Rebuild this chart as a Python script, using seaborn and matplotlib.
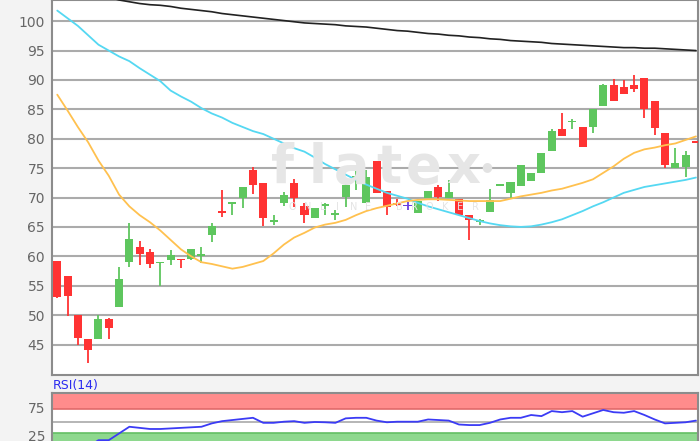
import numpy as np
import pandas as pd

import matplotlib
matplotlib.use('Agg')

import matplotlib.pyplot as plt

import seaborn as sns

# daily candles
open_ = [59.2, 56.6, 50.1, 46.0, 45.9, 49.3, 51.4, 59.1, 61.6, 60.8,
         58.8, 59.3, 59.6, 59.6, 60.1, 63.6, 67.7, 68.9, 70.0, 74.6,
         72.5, 65.8, 69.0, 72.5, 68.5, 66.5, 68.6, 67.0, 70.1, 72.8,
         69.1, 76.3, 71.1, 69.1, 68.5, 67.3, 69.9, 71.8, 70.0, 69.8,
         67.1, 65.9, 67.5, 72.0, 70.7, 72.0, 72.8, 74.2, 77.9, 81.6,
         82.8, 82.0, 82.0, 85.6, 89.2, 88.8, 89.2, 90.3, 86.4, 81.0,
         75.1, 75.2, 79.7]
high = [59.2, 56.6, 50.1, 46.0, 50.1, 49.5, 58.2, 65.7, 62.6, 61.2,
        59.1, 61.0, 59.6, 61.2, 61.6, 65.7, 71.2, 69.2, 71.8, 75.2,
        72.5, 67.0, 70.9, 73.2, 69.1, 68.3, 69.1, 67.8, 72.5, 74.6,
        74.6, 76.3, 71.1, 69.8, 69.2, 69.4, 71.1, 72.1, 72.9, 69.8,
        67.1, 66.4, 71.5, 72.3, 72.6, 75.6, 74.1, 77.6, 81.6, 84.4,
        83.4, 82.0, 85.0, 89.3, 90.1, 90.0, 90.8, 90.3, 86.4, 81.0,
        78.4, 77.9, 79.7]
low = [52.9, 49.8, 45.0, 41.9, 45.9, 45.9, 51.4, 58.2, 58.5, 58.0,
       55.0, 58.5, 58.0, 59.3, 58.8, 62.4, 66.7, 67.1, 68.2, 70.6,
       65.1, 65.3, 68.6, 68.4, 65.6, 66.5, 67.0, 66.1, 68.4, 71.2,
       69.1, 70.8, 67.0, 68.5, 67.9, 67.3, 69.9, 69.4, 70.0, 67.1,
       62.8, 65.3, 67.5, 72.0, 69.9, 72.0, 72.8, 74.2, 77.9, 80.5,
       81.7, 78.6, 81.0, 85.5, 86.5, 87.6, 87.9, 83.5, 80.7, 75.0,
       75.1, 73.5, 79.3]
close = [53.0, 53.2, 46.1, 44.1, 49.3, 47.8, 56.2, 63.0, 60.4, 58.7,
         59.1, 60.3, 59.3, 61.2, 60.4, 65.1, 67.4, 69.1, 71.8, 72.1,
         66.6, 66.0, 70.4, 70.0, 67.1, 68.3, 68.8, 67.2, 72.1, 73.7,
         73.5, 70.8, 68.4, 68.8, 68.5, 69.4, 71.1, 70.1, 70.9, 67.1,
         66.2, 66.1, 69.5, 72.3, 72.6, 75.6, 74.1, 77.6, 81.3, 80.5,
         83.1, 78.6, 85.0, 89.1, 86.5, 87.6, 88.4, 85.0, 81.9, 75.6,
         75.8, 77.3, 79.3]

# moving averages
ma_orange = [87.5, 84.8, 82.0, 79.4, 76.3, 73.7, 70.5, 68.5, 67.0, 65.8,
             64.4, 62.8, 61.2, 60.0, 59.0, 58.7, 58.3, 57.9, 58.2, 58.7,
             59.2, 60.5, 62.0, 63.2, 64.0, 64.9, 65.4, 65.7, 66.2, 67.0,
             67.7, 68.2, 68.6, 69.0, 69.4, 69.6, 69.7, 69.7, 69.6, 69.5,
             69.4, 69.4, 69.4, 69.4, 69.8, 70.2, 70.5, 70.8, 71.2, 71.5,
             72.0, 72.5, 73.1, 74.2, 75.3, 76.6, 77.6, 78.2, 78.5, 78.9,
             79.2, 79.8, 80.4]
ma_cyan = [101.8, 100.5, 99.2, 97.6, 96.0, 95.0, 94.0, 93.2, 92.0, 90.9,
           89.8, 88.2, 87.2, 86.3, 85.2, 84.3, 83.6, 82.7, 82.0, 81.3,
           80.8, 80.0, 79.2, 78.4, 77.8, 76.8, 75.7, 74.8, 73.9, 73.0,
           72.2, 71.5, 70.8, 70.3, 69.8, 69.1, 68.5, 68.0, 67.5, 67.0,
           66.5, 66.0, 65.6, 65.3, 65.1, 65.0, 65.1, 65.4, 65.8, 66.3,
           67.0, 67.7, 68.5, 69.2, 70.0, 70.8, 71.3, 71.8, 72.1, 72.4,
           72.7, 73.0, 73.4]
ma_black = [106.5, 106.0, 105.5, 105.0, 104.6, 104.1, 103.6, 103.3, 103.0, 102.8,
            102.7, 102.5, 102.2, 102.0, 101.8, 101.6, 101.3, 101.1, 100.9, 100.7,
            100.5, 100.3, 100.1, 99.9, 99.7, 99.6, 99.5, 99.4, 99.2, 99.1,
            99.0, 98.8, 98.6, 98.4, 98.3, 98.1, 97.9, 97.8, 97.6, 97.5,
            97.3, 97.2, 97.0, 96.9, 96.7, 96.6, 96.5, 96.4, 96.2, 96.1,
            96.0, 95.9, 95.8, 95.7, 95.6, 95.5, 95.5, 95.4, 95.4, 95.3,
            95.2, 95.1, 95.0]

rsi = [10, 8, 5, 5, 17, 17, 29, 41, 39, 37,
       37, 38, 39, 40, 41, 47, 51, 53, 55, 57,
       48, 48, 50, 51, 48, 49.5, 49, 48, 56, 57,
       57, 52, 49, 50, 50, 50, 54, 53, 52, 45,
       44, 44, 48, 54, 57, 57, 62, 60, 69, 67,
       69, 59, 65, 71, 67, 66, 69, 62, 54, 47,
       48, 49, 52]

price_ticks = [45, 50, 55, 60, 65, 70, 75, 80, 85, 90, 95, 100]
rsi_ticks = [25, 75]

df = pd.DataFrame({'open': open_, 'high': high, 'low': low, 'close': close,
                   'ma_o': ma_orange, 'ma_c': ma_cyan, 'ma_b': ma_black, 'rsi': rsi})
df['x'] = np.arange(len(df))

GREEN = '#5ec65e'
RED = '#ff3333'
DOJI = '#6a3fe0'

def candle_color(r):
    if r['close'] > r['open']:
        return GREEN
    if r['close'] < r['open']:
        return RED
    return DOJI

df['col'] = df.apply(candle_color, axis=1)
df['body_lo'] = df[['open', 'close']].min(axis=1)
df['body_h'] = (df['close'] - df['open']).abs().clip(lower=0.3)

sns.set_theme(style='white')
plt.rcParams['font.family'] = ['DejaVu Sans']

W, H = 700, 441
fig = plt.figure(figsize=(7, 4.41), dpi=100)
fig.patch.set_facecolor('#f3f3f3')

ax = fig.add_axes([52 / W, 1 - 374.5 / H, 646 / W, 374.5 / H])
ax.set_facecolor('white')
ax.set_xlim(-0.51, 62.2)
ax.set_ylim(39.9, 103.6)

for t in price_ticks:
    ax.axhline(t, color='#ababab', lw=1.5, zorder=1)

# watermark
for ch, px in zip('flatex', [282, 318, 352, 389, 424, 463]):
    fig.text(px / W, 1 - 183 / H, ch, fontsize=38, fontweight='bold',
             color='#e6e6e6', ha='center', va='baseline', zorder=0.5)
fig.text(487 / W, 1 - 167 / H, '\u25cf', fontsize=9, color='#e2e2e2',
         ha='center', va='center', zorder=0.5)
for k, ch in enumerate('ONLINE BROKER'):
    if ch != ' ':
        fig.text((292 + 15.3 * k) / W, 1 - 207 / H, ch, fontsize=7,
                 color='#e4e4e4', ha='center', va='center', zorder=0.5)

ax.vlines(df['x'], df['low'], df['high'], colors=df['col'], lw=1.3, zorder=2)
ax.bar(df['x'], df['body_h'], bottom=df['body_lo'], width=0.78,
       color=df['col'], linewidth=0, zorder=3)

sns.lineplot(data=df, x='x', y='ma_b', color='#222222', lw=1.2, ax=ax, zorder=4)
sns.lineplot(data=df, x='x', y='ma_c', color='#55d8f2', lw=1.3, ax=ax, zorder=4)
sns.lineplot(data=df, x='x', y='ma_o', color='#ffc14f', lw=1.3, ax=ax, zorder=4)

ax.set_xlabel('')
ax.set_ylabel('')
ax.set_xticks([])
ax.set_yticks(price_ticks)
ax.tick_params(axis='y', length=3, width=1.5, color='#ababab', pad=2,
               labelsize=10, labelcolor='#666666')
for s in ax.spines.values():
    s.set_color('#8c8c8c')
    s.set_linewidth(1.5)

# RSI panel
rax = fig.add_axes([52 / W, 1 - 449.7 / H, 646 / W, 56.7 / H])
rax.set_facecolor('white')
rax.set_xlim(-0.51, 62.2)
rax.set_ylim(0, 101.3)
rax.axhspan(72, 101.3, color='#ff8c8c', lw=0, zorder=0.5)
rax.axhline(72, color='#e06a6a', lw=1.2, zorder=1)
rax.axhspan(0, 30, color='#8ed88e', lw=0, zorder=0.5)
rax.axhline(30, color='#63bf63', lw=1.2, zorder=1)
rax.axhline(50, color='#b0b0b0', lw=1.3, zorder=1)
sns.lineplot(data=df, x='x', y='rsi', color='#3b3bf5', lw=1.3, ax=rax, zorder=3)
rax.set_xlabel('')
rax.set_ylabel('')
rax.set_xticks([])
rax.set_yticks(rsi_ticks)
rax.tick_params(axis='y', length=3, width=1.5, color='#ababab', pad=2,
                labelsize=10, labelcolor='#666666')
for s in rax.spines.values():
    s.set_color('#8c8c8c')
    s.set_linewidth(1.5)

fig.text(53 / W, 1 - 385 / H, 'RSI(14)', fontsize=9, color='#2a2af0',
         ha='left', va='center')

plt.savefig('out.png', dpi=100)
